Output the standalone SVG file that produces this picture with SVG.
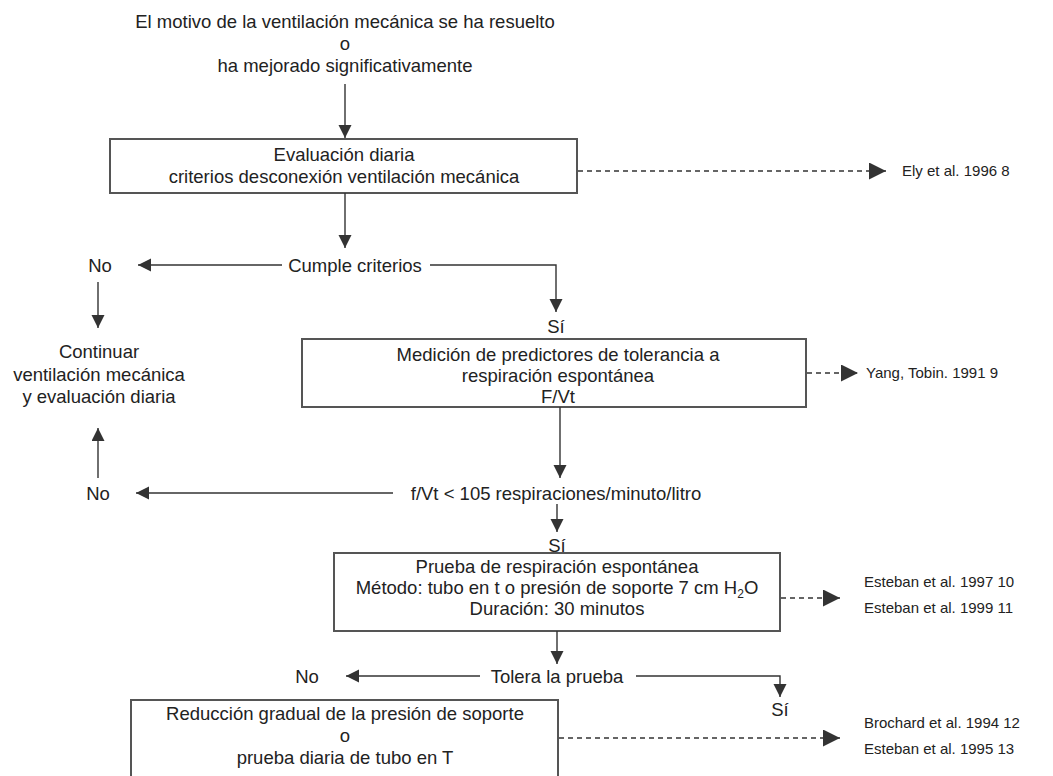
<svg xmlns="http://www.w3.org/2000/svg" width="1053" height="776" viewBox="0 0 1053 776">
<style>
text{font-family:"Liberation Sans",Arial,sans-serif;fill:#222;}
.t{font-size:18.5px;text-anchor:middle;}
.r{font-size:15px;text-anchor:start;}
.box{fill:#fff;stroke:#555;stroke-width:2;}
.ln{fill:none;stroke:#333;stroke-width:1.4;}
.ds{fill:none;stroke:#333;stroke-width:1.6;stroke-dasharray:5,4;}
</style>
<defs>
<marker id="ah" markerUnits="userSpaceOnUse" markerWidth="14" markerHeight="14" refX="13" refY="6.5" orient="auto"><path d="M0,0 L13,6.5 L0,13 z" fill="#333"/></marker>
<marker id="ahd" markerUnits="userSpaceOnUse" markerWidth="18" markerHeight="18" refX="17" refY="8.5" orient="auto"><path d="M0,0 L17,8.5 L0,17 z" fill="#333"/></marker>
</defs>
<rect width="1053" height="776" fill="#fff"/>

<g id="start">
<text class="t" x="345" y="28">El motivo de la ventilación mecánica se ha resuelto</text>
<text class="t" x="345" y="50">o</text>
<text class="t" x="345" y="72">ha mejorado significativamente</text>
</g>

<g id="evaluacion">
<rect class="box" x="110" y="139" width="467" height="54"/>
<text class="t" x="344" y="161">Evaluación diaria</text>
<text class="t" x="344" y="183">criterios desconexión ventilación mecánica</text>
</g>
<g id="ref-ely"><text class="r" x="902" y="176">Ely et al. 1996 8</text></g>

<g id="cumple"><text class="t" x="355" y="272">Cumple criterios</text></g>
<g id="no1"><text class="t" x="100" y="272">No</text></g>
<g id="si1"><text class="t" x="556" y="333">Sí</text></g>

<g id="continuar">
<text class="t" x="99" y="358">Continuar</text>
<text class="t" x="99" y="381">ventilación mecánica</text>
<text class="t" x="99" y="403">y evaluación diaria</text>
</g>

<g id="medicion">
<rect class="box" x="302" y="339" width="504" height="68"/>
<text class="t" x="558" y="361">Medición de predictores de tolerancia a</text>
<text class="t" x="558" y="382">respiración espontánea</text>
<text class="t" x="558" y="403">F/Vt</text>
</g>
<g id="ref-yang"><text class="r" x="866" y="378">Yang, Tobin. 1991 9</text></g>

<g id="fvt"><text class="t" x="556" y="500">f/Vt &lt; 105 respiraciones/minuto/litro</text></g>
<g id="no2"><text class="t" x="98" y="500">No</text></g>
<g id="si2"><text class="t" x="557" y="552">Sí</text></g>

<g id="prueba">
<rect class="box" x="334" y="553" width="446" height="78"/>
<text class="t" x="557" y="573">Prueba de respiración espontánea</text>
<text class="t" x="557" y="594">Método: tubo en t o presión de soporte 7 cm H<tspan font-size="12" dy="4">2</tspan><tspan dy="-4">O</tspan></text>
<text class="t" x="557" y="615">Duración: 30 minutos</text>
</g>
<g id="ref-esteban"><text class="r" x="864" y="587">Esteban et al. 1997 10</text><text class="r" x="864" y="613">Esteban et al. 1999 11</text></g>

<g id="tolera"><text class="t" x="557" y="683">Tolera la prueba</text></g>
<g id="no3"><text class="t" x="307" y="683">No</text></g>
<g id="si3"><text class="t" x="780" y="716">Sí</text></g>

<g id="reduccion">
<rect class="box" x="131" y="700" width="427" height="90"/>
<text class="t" x="345" y="720">Reducción gradual de la presión de soporte</text>
<text class="t" x="345" y="742">o</text>
<text class="t" x="345" y="764">prueba diaria de tubo en T</text>
</g>
<g id="ref-brochard"><text class="r" x="864" y="728">Brochard et al. 1994 12</text><text class="r" x="864" y="754">Esteban et al. 1995 13</text></g>

<g id="connectors">
<line class="ln" x1="345" y1="84" x2="345" y2="138" marker-end="url(#ah)"/>
<line class="ds" x1="578" y1="171" x2="886" y2="171" marker-end="url(#ahd)"/>
<line class="ln" x1="345" y1="193" x2="345" y2="248" marker-end="url(#ah)"/>
<line class="ln" x1="282" y1="265" x2="138" y2="265" marker-end="url(#ah)"/>
<polyline class="ln" points="430,265 556,265 556,312" marker-end="url(#ah)"/>
<line class="ln" x1="98" y1="282" x2="98" y2="328" marker-end="url(#ah)"/>
<line class="ds" x1="807" y1="373" x2="858" y2="373" marker-end="url(#ahd)"/>
<line class="ln" x1="560" y1="407" x2="560" y2="478" marker-end="url(#ah)"/>
<line class="ln" x1="393" y1="493" x2="136" y2="493" marker-end="url(#ah)"/>
<line class="ln" x1="98" y1="478" x2="98" y2="428" marker-end="url(#ah)"/>
<line class="ln" x1="557" y1="504" x2="557" y2="532" marker-end="url(#ah)"/>
<line class="ds" x1="781" y1="598" x2="840" y2="598" marker-end="url(#ahd)"/>
<line class="ln" x1="557" y1="631" x2="557" y2="664" marker-end="url(#ah)"/>
<line class="ln" x1="480" y1="676" x2="346" y2="676" marker-end="url(#ah)"/>
<polyline class="ln" points="636,676 780,676 780,697" marker-end="url(#ah)"/>
<line class="ds" x1="559" y1="738" x2="840" y2="738" marker-end="url(#ahd)"/>
</g>
</svg>
